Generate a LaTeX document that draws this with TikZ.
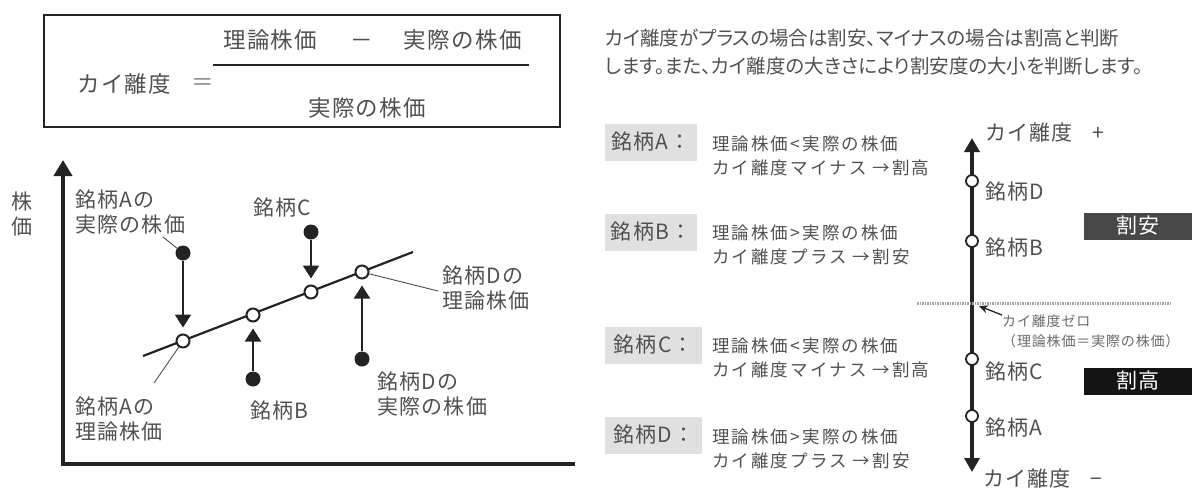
\documentclass[tikz,border=0pt]{standalone}
\usepackage{fontspec}
\setmainfont[LetterSpace=6]{Noto Sans CJK JP}
\newfontfamily\widejp[LetterSpace=12]{Noto Sans CJK JP}
\newfontfamily\propjp[RawFeature=+palt]{Noto Sans CJK JP}
\usetikzlibrary{arrows.meta, positioning}
\definecolor{kairiText}{RGB}{80, 80, 80}
\definecolor{kairiLine}{RGB}{35, 35, 35}
\definecolor{kairiTag}{RGB}{224, 224, 224}
\definecolor{kairiCheap}{RGB}{72, 72, 72}
\definecolor{kairiDear}{RGB}{20, 20, 20}
\definecolor{kairiDash}{RGB}{165, 165, 165}

\begin{document}
\begin{tikzpicture}[x=1pt, y=-1pt]
        \tikzstyle{lbl} = [text=kairiText, inner sep=0pt, align=left, font=\fontsize{21}{25}\selectfont]
        \tikzstyle{big} = [text=kairiText, inner sep=0pt, font=\fontsize{22.5}{27}\selectfont]
        \tikzstyle{actual} = [circle, fill=kairiLine, minimum size=15pt, inner sep=0pt]
        \tikzstyle{theory} = [circle, draw=kairiLine, fill=white, line width=2pt, minimum size=13pt, inner sep=0pt]
        \tikzstyle{axisdot} = [circle, draw=kairiLine, fill=white, line width=1.8pt, minimum size=12pt, inner sep=0pt]
        \tikzstyle{ptr} = [-{Triangle[width=16pt, length=13pt]}, line width=2.2pt, kairiLine, shorten >=6pt]
        \tikzstyle{leader} = [kairiText, line width=0.9pt]
        \tikzstyle{tag} = [fill=kairiTag, minimum width=92pt, minimum height=37pt, inner sep=0pt, text=kairiText, font=\fontsize{21}{25}\selectfont]
        \tikzstyle{note} = [anchor=north west, inner sep=0pt, align=left, text=kairiText, font=\widejp\fontsize{17.5}{24}\selectfont]
        \tikzstyle{verdict} = [minimum width=108pt, minimum height=27pt, inner sep=0pt, text=white, font=\fontsize{21}{25}\selectfont]

        \useasboundingbox (0,0) rectangle (1197,491);

        % formula box
        \node[draw=kairiLine, line width=2.4pt, minimum width=516pt, minimum height=112pt] (formula) at (302,71) {};
        \node[big, anchor=west] (numl) at (223,40) {理論株価};
        \node[big] (minus) at (362,44) {－};
        \node[big, anchor=east] (numr) at (522,40) {実際の株価};
        \draw[kairiLine, line width=2pt] (213,65) -- (529,65);
        \node[big, anchor=west] (kairi) at (77,84) {カイ離度};
        \node[big, text=kairiText!70] (eq) at (203,85) {＝};
        \node[big, anchor=west] (denom) at (308,108) {実際の株価};

        % chart
        \coordinate (ytop) at (63,160);
        \coordinate (origin) at (63,464);
        \coordinate (xend) at (575,464);
        \draw[{Triangle[width=18pt, length=16pt]}-, kairiLine, line width=4.5pt] (ytop) -- (origin) -- (xend);
        \node[lbl, align=center] (price) at (22,214) {株\\価};

        \coordinate (tstart) at (143,356);
        \coordinate (tend) at (413,252);
        \draw[kairiLine, line width=2.2pt] (tstart) -- (tend);

        \node[theory] (ta) at (183,341) {};
        \node[theory] (tb) at (253,315) {};
        \node[theory] (tc) at (311,292) {};
        \node[theory] (td) at (362,272) {};
        \node[actual] (fa) at (183,253) {};
        \node[actual] (fb) at (253,379) {};
        \node[actual] (fc) at (311,232) {};
        \node[actual] (fd) at (362,359) {};

        \draw[ptr] (fa) -- (ta);
        \draw[ptr] (fb) -- (tb);
        \draw[ptr] (fc) -- (tc);
        \draw[ptr] (fd) -- (td);

        \node[lbl, anchor=north west] (aact) at (75,190) {銘柄Aの\\実際の株価};
        \node[lbl, anchor=north west] (atheo) at (75,397) {銘柄Aの\\理論株価};
        \node[lbl, anchor=west] (blbl) at (250,411) {銘柄B};
        \node[lbl, anchor=west] (clbl) at (253,208) {銘柄C};
        \node[lbl, anchor=north west] (dact) at (377,372) {銘柄Dの\\実際の株価};
        \node[lbl, anchor=north west] (dtheo) at (442,266) {銘柄Dの\\理論株価};
        \coordinate (aactend) at (163,237);
        \coordinate (atheoend) at (154,383);
        \coordinate (dtheoend) at (438,291);
        \draw[leader] (aactend) -- (fa);
        \draw[leader] (atheoend) -- (ta);
        \draw[leader] (dtheoend) -- (td);

        % right side
        \node[anchor=north west, inner sep=0pt, align=left, text=kairiText, font=\propjp\fontsize{19.5}{28}\selectfont] (intro) at (605,29)
            {カイ離度がプラスの場合は割安、マイナスの場合は割高と判断\\します。また、カイ離度の大きさにより割安度の大小を判断します。};

        \node[tag, anchor=west] (taga) at (605,142) {銘柄A：};
        \node[tag, anchor=west] (tagb) at (605,232) {銘柄B：};
        \node[tag, anchor=west, minimum width=97pt] (tagc) at (605,345) {銘柄C：};
        \node[tag, anchor=west, minimum width=97pt] (tagd) at (605,435) {銘柄D：};
        \node[note] (notea) at (712,136) {理論株価<実際の株価\\カイ離度マイナス →割高};
        \node[note] (noteb) at (712,225) {理論株価>実際の株価\\カイ離度プラス →割安};
        \node[note] (notec) at (712,338) {理論株価<実際の株価\\カイ離度マイナス →割高};
        \node[note] (noted) at (712,429) {理論株価>実際の株価\\カイ離度プラス →割安};

        \coordinate (ktop) at (972,138);
        \coordinate (kbot) at (972,472);
        \draw[{Triangle[width=15pt, length=14pt]}-{Triangle[width=15pt, length=14pt]}, kairiLine, line width=3.5pt] (kbot) -- (ktop);
        \node[axisdot] (kd) at (972,181) {};
        \node[axisdot] (kb) at (972,241) {};
        \node[axisdot] (kc) at (972,359) {};
        \node[axisdot] (ka) at (972,416) {};
        \node[lbl, anchor=west] (kplus) at (985,133) {カイ離度\hspace{20pt}+};
        \node[lbl, anchor=west] (kdl) at (985,192) {銘柄D};
        \node[lbl, anchor=west] (kbl) at (985,248) {銘柄B};
        \node[lbl, anchor=west] (kcl) at (985,372) {銘柄C};
        \node[lbl, anchor=west] (kal) at (985,428) {銘柄A};
        \node[lbl, anchor=west] (kminus) at (983,479) {カイ離度\hspace{20pt}−};

        \coordinate (zl) at (917,303);
        \coordinate (zr) at (1171,303);
        \draw[kairiDash, line width=3pt, dash pattern=on 1.5pt off 1pt] (zl) -- (zr);
        \node[note, font=\fontsize{14}{20}\selectfont, text=kairiText!85] (zero) at (1002,315) {カイ離度ゼロ\\（理論株価＝実際の株価）};
        \coordinate (zeropt) at (979,306);
        \draw[-{Stealth[length=9pt, width=8pt]}, kairiLine, line width=1.3pt] (zero.north west) -- (zeropt);

        \node[verdict, fill=kairiCheap] (cheap) at (1138,226) {割安};
        \node[verdict, fill=kairiDear] (dear) at (1138,381) {割高};
    \end{tikzpicture}
\end{document}
